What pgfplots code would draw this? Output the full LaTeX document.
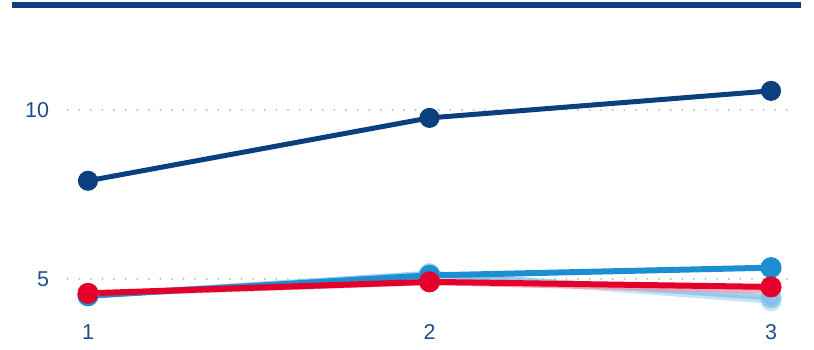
\documentclass[border=0pt]{standalone}
\usepackage{pgfplots}
\pgfplotsset{compat=1.18}
\usepackage{fontspec}
\setmainfont{Liberation Sans}
\definecolor{navy}{HTML}{0B3F7E}
\definecolor{bblue}{HTML}{1B8FD2}
\definecolor{pblue}{HTML}{7DBDE8}
\definecolor{red1}{HTML}{E4002B}
\definecolor{lab}{HTML}{1F4E8C}
\begin{document}
\begin{tikzpicture}
\path[use as bounding box] (0,0) rectangle (814pt,350pt);
\begin{axis}[
  name=ax,
  at={(67.5pt,34pt)}, anchor=south west,
  scale only axis, width=724pt, height=311pt,
  xmin=0.94, xmax=3.06, ymin=3.9, ymax=13.1,
  xtick={1,2,3}, ytick={5,10},
  axis line style={draw=none},
  major tick style={draw=none},
  ymajorgrids,
  grid style={gray!55, line width=2pt, dash pattern=on 0.1pt off 11.5pt, line cap=round},
  ticklabel style={font=\fontsize{21.5}{24}\selectfont, text=lab},
  /pgf/number format/assume math mode=true,
  yticklabel style={xshift=-15pt},
  xticklabel style={yshift=-5pt},
  clip=false,
]
\draw[navy, line width=6pt] ([xshift=-55pt]rel axis cs:0,1) -- ([xshift=9pt]rel axis cs:1,1);
\addplot[pblue!60, opacity=0.7, line width=6pt, mark=*, mark size=7.5pt] coordinates {(1,4.5) (2,5.12) (3,4.35)};
\addplot[pblue, opacity=0.7, line width=6pt, mark=*, mark size=7.5pt] coordinates {(1,4.5) (2,5.15) (3,4.45)};
\addplot[red1!40, opacity=0.8, line width=6pt] coordinates {(1,4.55) (2,4.9) (3,4.65)};
\addplot[bblue, line width=6pt, mark=*, mark size=7.5pt] coordinates {(1,4.5) (2,5.1) (3,5.33)};
\addplot[red1, line width=6pt, mark=*, mark size=7.5pt] coordinates {(1,4.57) (2,4.91) (3,4.76)};
\addplot[navy, line width=5pt, mark=*, mark size=7.5pt] coordinates {(1,7.9) (2,9.76) (3,10.56)};
\end{axis}
\end{tikzpicture}
\end{document}
